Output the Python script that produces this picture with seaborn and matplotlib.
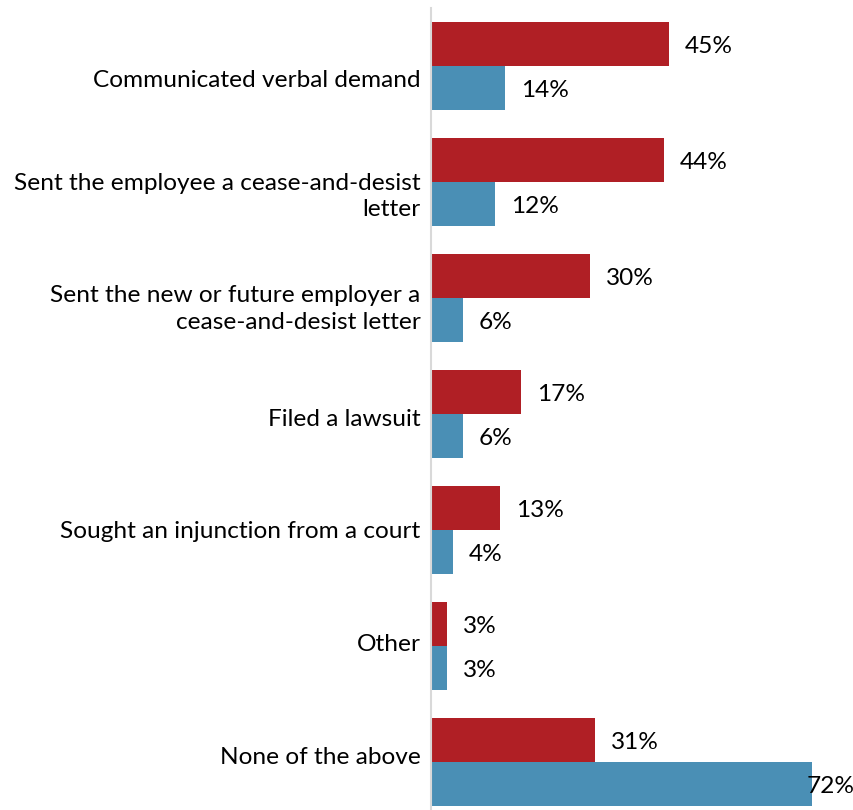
import matplotlib
matplotlib.use("Agg")
import matplotlib.pyplot as plt
import seaborn as sns
import numpy as np
import pandas as pd

# Actions taken, with the share of respondents in each group
categories = [
    "Communicated verbal demand",
    "Sent the employee a cease-and-desist\nletter",
    "Sent the new or future employer a\ncease-and-desist letter",
    "Filed a lawsuit",
    "Sought an injunction from a court",
    "Other",
    "None of the above",
]
series_names = ["Group 1", "Group 2"]
values_group1 = [45, 44, 30, 17, 13, 3, 31]
values_group2 = [14, 12, 6, 6, 4, 3, 72]
colors = ["#B01F25", "#4A8FB5"]

df = pd.DataFrame({
    "category": categories * 2,
    "series": [series_names[0]] * len(categories) + [series_names[1]] * len(categories),
    "value": values_group1 + values_group2,
})

sns.set_theme(style="white")
plt.rcParams["font.family"] = ["Lato", "DejaVu Sans"]

FS = 17.6

fig = plt.figure(figsize=(8.54, 8.10), dpi=100)
ax_left = 431.5 / 854
ax = fig.add_axes([ax_left, 0.0, 1 - ax_left, 802 / 810])

sns.barplot(
    data=df, x="value", y="category", hue="series", order=categories,
    hue_order=series_names, palette=colors, orient="h", width=0.759,
    gap=0, saturation=1, legend=False, ax=ax, errorbar=None, linewidth=0,
)

ax.set_xlim(0, 80)
ax.set_ylim(6.414, -0.5)
ax.set_xlabel("")
ax.set_ylabel("")
ax.set_xticks([])

# category labels sit on a slightly tighter pitch than the bar groups
n = len(categories)
tick_pos = [0.11 + 0.972 * k for k in range(n)]
ax.set_yticks(tick_pos)
ax.set_yticklabels(categories, fontsize=FS, color="#000000", ha="right",
                   multialignment="right", linespacing=1.35)
ax.tick_params(axis="y", length=0, pad=8)

for side in ["top", "right", "bottom"]:
    ax.spines[side].set_visible(False)
ax.spines["left"].set_color("#D9D9D9")
ax.spines["left"].set_linewidth(1.5)

# value labels next to each bar
for container in ax.containers:
    for bar in container:
        v = bar.get_width()
        y = bar.get_y() + bar.get_height() / 2
        ax.text(min(v + 3.0, 71.0), y + 0.02, f"{v:.0f}%", va="center",
                ha="left", fontsize=FS, color="#000000")

fig.savefig("out.png", dpi=100)
